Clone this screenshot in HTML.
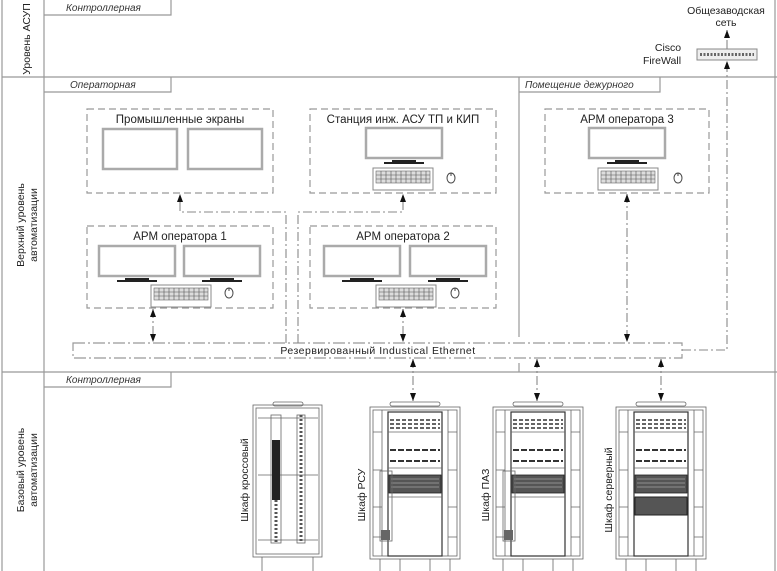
<!DOCTYPE html>
<html><head><meta charset="utf-8"><style>
html,body{margin:0;padding:0;background:#fff;}
svg{display:block;font-family:"Liberation Sans","DejaVu Sans",sans-serif;}
.t{font-size:10.5px;fill:#222;}
.h{font-size:11.5px;fill:#222;}
.it{font-size:10px;fill:#333;font-style:italic;}
</style></head><body>
<svg width="777" height="571" viewBox="0 0 777 571" xmlns="http://www.w3.org/2000/svg">
<defs>
<marker id="ar" markerWidth="8" markerHeight="6" refX="8" refY="3" orient="auto-start-reverse" markerUnits="userSpaceOnUse">
<path d="M0,0 L8,3 L0,6 Z" fill="#111"/></marker>
<g id="mon">
<rect x="0" y="0" width="76" height="30" fill="#fff" stroke="#aaa" stroke-width="2.5"/>
<rect x="26" y="32" width="24" height="2" fill="#222"/>
<rect x="18" y="34" width="40" height="2" fill="#222"/>
</g>
<g id="kb">
<rect x="0" y="0" width="60" height="22" fill="#fff" stroke="#888"/>
<rect x="3" y="3" width="54" height="12" fill="#ddd" stroke="#666" stroke-width="0.6"/>
<path d="M8,3v12M13,3v12M18,3v12M23,3v12M28,3v12M33,3v12M38,3v12M43,3v12M48,3v12M53,3v12M3,7h54M3,11h54" stroke="#555" stroke-width="0.6"/>
</g>
<g id="mouse"><ellipse cx="0" cy="0" rx="4" ry="5" fill="#fff" stroke="#444"/><line x1="0" y1="-5" x2="0" y2="-2" stroke="#444"/></g>
<g id="rack" stroke="#666" fill="none" stroke-width="0.8">
<rect x="20" y="0" width="50" height="4" rx="2"/>
<rect x="0" y="5" width="90" height="152"/>
<rect x="3" y="8" width="84" height="146"/>
<line x1="12" y1="8" x2="12" y2="154"/><line x1="78" y1="8" x2="78" y2="154"/>
<rect x="18" y="10" width="54" height="144" stroke="#333" stroke-width="1.2"/>
<line x1="18" y1="30" x2="72" y2="30"/><line x1="18" y1="66" x2="72" y2="66"/><line x1="18" y1="95" x2="72" y2="95"/>
<path d="M20,18h50M20,22h50M20,26h50" stroke="#333" stroke-width="1.4" stroke-dasharray="4,2"/>
<path d="M20,48h50M20,59h50" stroke="#333" stroke-width="2" stroke-dasharray="6,2"/>
<rect x="19" y="73" width="52" height="18" fill="#555" stroke="#222"/>
<path d="M21,77h48M21,81h48M21,85h48" stroke="#ccc" stroke-width="0.6"/>
<path d="M3,30h9M78,30h9M3,68h9M78,68h9M3,105h9M78,105h9M3,135h9M78,135h9"/>
<path d="M10,157v14M80,157v14M30,157v14M60,157v14"/>
</g>
</defs>

<g stroke="#999" stroke-width="1.2" fill="none">
<line x1="2" y1="0" x2="2" y2="571"/>
<line x1="44" y1="0" x2="44" y2="571"/>
<line x1="775" y1="0" x2="775" y2="571"/>
<line x1="2" y1="77" x2="777" y2="77"/>
<line x1="2" y1="372" x2="777" y2="372"/>
<path d="M44,15H171V0"/>
<path d="M44,92H171V77"/>
<path d="M44,387H171V372"/>
<path d="M519,92H660V77"/>
<line x1="519" y1="77" x2="519" y2="337"/>
<line x1="519" y1="363" x2="519" y2="372"/>
</g>
<text class="it" x="66" y="11">Контроллерная</text>
<text class="it" x="70" y="88">Операторная</text>
<text class="it" x="66" y="383">Контроллерная</text>
<text class="it" x="525" y="88">Помещение дежурного</text>

<text class="t" transform="translate(30,39) rotate(-90)" text-anchor="middle" font-size="10.5">Уровень АСУП</text>
<text class="t" transform="translate(24,225) rotate(-90)" text-anchor="middle" font-size="10.5">Верхний уровень</text>
<text class="t" transform="translate(37,225) rotate(-90)" text-anchor="middle" font-size="10.5">автоматизации</text>
<text class="t" transform="translate(24,470) rotate(-90)" text-anchor="middle" font-size="10.5">Базовый уровень</text>
<text class="t" transform="translate(37,470) rotate(-90)" text-anchor="middle" font-size="10.5">автоматизации</text>

<g stroke="#999" stroke-width="1.2" fill="none" stroke-dasharray="7,4">
<rect x="87" y="109" width="186" height="84"/>
<rect x="310" y="109" width="186" height="84"/>
<rect x="545" y="109" width="164" height="84"/>
<rect x="87" y="226" width="186" height="82"/>
<rect x="310" y="226" width="186" height="82"/>
</g>
<text class="h" x="180" y="123" text-anchor="middle">Промышленные экраны</text>
<text class="h" x="403" y="123" text-anchor="middle">Станция инж. АСУ ТП и КИП</text>
<text class="h" x="627" y="123" text-anchor="middle">АРМ оператора 3</text>
<text class="h" x="180" y="240" text-anchor="middle">АРМ оператора 1</text>
<text class="h" x="403" y="240" text-anchor="middle">АРМ оператора 2</text>

<rect x="103" y="129" width="74" height="40" fill="#fff" stroke="#aaa" stroke-width="2.5"/>
<rect x="188" y="129" width="74" height="40" fill="#fff" stroke="#aaa" stroke-width="2.5"/>

<use href="#mon" x="366" y="128"/><use href="#kb" x="373" y="168"/><use href="#mouse" x="451" y="178"/>
<use href="#mon" x="589" y="128"/><use href="#kb" x="598" y="168"/><use href="#mouse" x="678" y="178"/>
<use href="#mon" x="99" y="246"/><use href="#mon" x="184" y="246"/><use href="#kb" x="151" y="285"/><use href="#mouse" x="229" y="293"/>
<use href="#mon" x="324" y="246"/><use href="#mon" x="410" y="246"/><use href="#kb" x="376" y="285"/><use href="#mouse" x="455" y="293"/>

<rect x="73" y="343" width="609" height="15" fill="none" stroke="#999" stroke-width="1.2" stroke-dasharray="12,3,2,3"/>
<text class="t" x="378" y="354" text-anchor="middle" letter-spacing="0.5">Резервированный Industical Ethernet</text>

<g stroke="#888" stroke-width="1.1" fill="none" stroke-dasharray="9,3,2,3">
<path d="M286,343V212H180V194" marker-end="url(#ar)"/>
<path d="M298,343V212H403V194" marker-end="url(#ar)"/>
<path d="M153,309V342" marker-start="url(#ar)" marker-end="url(#ar)"/>
<path d="M403,309V342" marker-start="url(#ar)" marker-end="url(#ar)"/>
<path d="M627,194V342" marker-start="url(#ar)" marker-end="url(#ar)"/>
<path d="M682,350H727V61" marker-end="url(#ar)"/>
<path d="M727,49V30" marker-end="url(#ar)"/>
<path d="M413,359V401" marker-start="url(#ar)" marker-end="url(#ar)"/>
<path d="M537,359V401" marker-start="url(#ar)" marker-end="url(#ar)"/>
<path d="M661,359V401" marker-start="url(#ar)" marker-end="url(#ar)"/>
</g>

<rect x="697" y="49" width="60" height="11" fill="#eee" stroke="#888"/>
<path d="M700,54.5h54" stroke="#666" stroke-width="3" stroke-dasharray="2,1.5"/>
<text class="t" x="726" y="14" text-anchor="middle">Общезаводская</text>
<text class="t" x="726" y="26" text-anchor="middle">сеть</text>
<text class="t" x="668" y="51" text-anchor="middle">Cisco</text>
<text class="t" x="662" y="64" text-anchor="middle">FireWall</text>

<use href="#rack" x="370" y="402"/>
<use href="#rack" x="493" y="402"/>
<use href="#rack" x="616" y="402"/>
<rect x="380" y="471" width="12" height="70" fill="none" stroke="#666" stroke-width="0.8"/>
<rect x="503" y="471" width="12" height="70" fill="none" stroke="#666" stroke-width="0.8"/>
<rect x="381" y="530" width="9" height="10" fill="#666"/><rect x="504" y="530" width="9" height="10" fill="#666"/>
<rect x="635" y="497" width="52" height="18" fill="#555" stroke="#222"/>
<g stroke="#666" fill="none" stroke-width="0.8">
<rect x="273" y="402" width="30" height="4" rx="2"/>
<rect x="253" y="405" width="69" height="152"/>
<rect x="256" y="408" width="63" height="146"/>
<path d="M258,418h60M258,475h60M258,540h60"/>
<path d="M262,557v14M313,557v14"/>
<rect x="271" y="415" width="10" height="128"/>
<rect x="297" y="415" width="8" height="128"/>
</g>
<rect x="272" y="440" width="8" height="60" fill="#222"/>
<path d="M301,415v128M276,500v43" stroke="#555" stroke-width="3" stroke-dasharray="2,2"/>

<text class="t" transform="translate(248,480) rotate(-90)" text-anchor="middle" font-size="10.5">Шкаф кроссовый</text>
<text class="t" transform="translate(365,495) rotate(-90)" text-anchor="middle" font-size="10.5">Шкаф РСУ</text>
<text class="t" transform="translate(489,495) rotate(-90)" text-anchor="middle" font-size="10.5">Шкаф ПАЗ</text>
<text class="t" transform="translate(612,490) rotate(-90)" text-anchor="middle" font-size="10.5">Шкаф серверный</text>
</svg>
</body></html>
